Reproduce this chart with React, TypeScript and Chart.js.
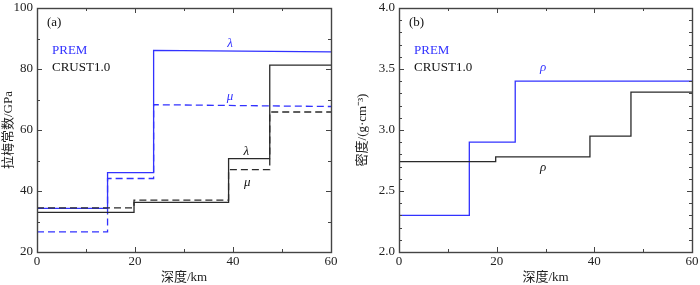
import React, { useEffect, useRef } from "react";
import { Chart, registerables } from "chart.js";

Chart.register(...registerables);

// ---------- data (a): Lamé constants, GPa ----------
const premDepth = [0, 14.4, 23.8, 60];
const premLambdaTop = [34.3, 46.0, 86.1];
const premLambdaBase = [34.3, 46.0, 85.6];
const premMuTop = [26.6, 44.1, 68.3];
const premMuBase = [26.6, 44.1, 67.7];

const crustDepth = [0, 19.8, 39.1, 47.5, 60];
const crustLambda = [33.0, 36.3, 50.6, 81.3];
const crustMu = [34.5, 37.0, 47.0, 65.9];

// ---------- data (b): density, g/cm3 ----------
const premRho = [2.3, 2.9, 3.4];
const crustRho = [2.74, 2.78, 2.95, 3.31];

// axis ranges
const xRange = [0, 60];
const yRangeA = [20, 100];
const yRangeB = [2, 4];

// labels
const panelLabels = ["(a)", "(b)"];
const legendNames = ["PREM", "CRUST1.0"];
const xTitle = "深度/km";
const yTitleA = "拉梅常数/GPa";
const yTitleB = "密度/(g·cm⁻³)";

// greek annotations in data units
const annotA = [
  { text: "λ", x: 39.4, y: 88.2, blue: true },
  { text: "μ", x: 39.4, y: 70.8, blue: true },
  { text: "λ", x: 42.7, y: 52.8, blue: false },
  { text: "μ", x: 42.9, y: 42.6, blue: false },
];
const annotB = [
  { text: "ρ", x: 29.5, y: 3.51, blue: true },
  { text: "ρ", x: 29.5, y: 2.69, blue: false },
];

const BLUE = "#3232ff";
const BLACK = "#2a2a2a";
const FRAME = "#444444";
const SERIF = "'Liberation Serif', 'Noto Sans CJK SC', serif";

function steps(depth: number[], top: number[], base?: number[]) {
  const pts: { x: number; y: number }[] = [];
  for (let i = 0; i < top.length; i++) {
    pts.push({ x: depth[i], y: top[i] });
    pts.push({ x: depth[i + 1], y: (base ? base[i] : top[i]) });
  }
  return pts;
}

function makeDecor(panel: string, annots: { text: string; x: number; y: number; blue: boolean }[], majorTest: (v: number) => boolean, xMajor: (v: number) => boolean) {
  return {
    id: "decor" + panel,
    afterDatasetsDraw(chart: any) {
      const { ctx, chartArea: a, scales } = chart;
      ctx.save();
      ctx.strokeStyle = FRAME;
      ctx.lineWidth = 1;
      // ticks inward on four sides
      for (const t of scales.x.ticks) {
        const px = Math.round(scales.x.getPixelForValue(t.value)) + 0.5;
        const len = xMajor(t.value) ? 5 : 3;
        ctx.beginPath();
        ctx.moveTo(px, a.bottom);
        ctx.lineTo(px, a.bottom - len);
        ctx.moveTo(px, a.top);
        ctx.lineTo(px, a.top + len);
        ctx.stroke();
      }
      for (const t of scales.y.ticks) {
        const py = Math.round(scales.y.getPixelForValue(t.value)) + 0.5;
        const len = majorTest(t.value) ? 5 : 3;
        ctx.beginPath();
        ctx.moveTo(a.left, py);
        ctx.lineTo(a.left + len, py);
        ctx.moveTo(a.right, py);
        ctx.lineTo(a.right - len, py);
        ctx.stroke();
      }
      // frame
      ctx.lineWidth = 1.4;
      ctx.strokeRect(Math.round(a.left) + 0.5, Math.round(a.top) + 0.5, Math.round(a.right - a.left), Math.round(a.bottom - a.top));

      // panel texts
      ctx.font = "13px " + SERIF;
      ctx.textBaseline = "middle";
      ctx.textAlign = "left";
      ctx.fillStyle = "#111";
      ctx.fillText(panel, a.left + 10, a.top + 15);
      ctx.fillStyle = BLUE;
      ctx.fillText(legendNames[0], a.left + 15, a.top + 43);
      ctx.fillStyle = "#111";
      ctx.fillText(legendNames[1], a.left + 15, a.top + 60);

      // greek labels
      ctx.font = "italic 13px " + SERIF;
      ctx.textAlign = "center";
      for (const an of annots) {
        ctx.fillStyle = an.blue ? BLUE : "#111";
        ctx.fillText(an.text, scales.x.getPixelForValue(an.x), scales.y.getPixelForValue(an.y));
      }
      ctx.restore();
    },
  };
}

function baseOptions(yMin: number, yMax: number, yStep: number, yLabel: (v: number) => string, yTitle: string, yWidth: number, yTitlePad: number, padRight: number) {
  return {
    responsive: false,
    animation: false as const,
    layout: { padding: { left: 0, top: 8, right: padRight, bottom: 0 } },
    plugins: { legend: { display: false }, tooltip: { enabled: false } },
    elements: { point: { radius: 0 }, line: { tension: 0 } },
    scales: {
      x: {
        type: "linear" as const,
        min: xRange[0],
        max: xRange[1],
        grid: { display: false, drawTicks: false },
        border: { display: false },
        ticks: {
          stepSize: 10,
          autoSkip: false,
          maxRotation: 0,
          padding: 2,
          color: "#222",
          font: { family: SERIF, size: 13 },
          callback: (v: any) => (Math.round(v) % 20 === 0 ? String(Math.round(v)) : ""),
        },
        title: { display: true, text: xTitle, color: "#222", padding: { top: 0, bottom: 0 }, font: { family: SERIF, size: 13 } },
        afterFit: (s: any) => {
          s.height = 33;
          s.paddingLeft = 0;
          s.paddingRight = 0;
        },
      },
      y: {
        type: "linear" as const,
        min: yMin,
        max: yMax,
        grid: { display: false, drawTicks: false },
        border: { display: false },
        ticks: {
          stepSize: yStep,
          autoSkip: false,
          padding: 4,
          color: "#222",
          font: { family: SERIF, size: 13 },
          callback: (v: any) => yLabel(Number(v)),
        },
        title: { display: true, text: yTitle, color: "#222", padding: { top: yTitlePad, bottom: 0 }, font: { family: SERIF, size: 13 } },
        afterFit: (s: any) => {
          s.width = yWidth;
          s.paddingTop = 0;
          s.paddingBottom = 0;
        },
      },
    },
  };
}

const isMajA = (v: number) => Math.abs(v / 20 - Math.round(v / 20)) < 1e-6;
const isMajB = (v: number) => Math.abs(v * 2 - Math.round(v * 2)) < 1e-6;
const isMajX = (v: number) => Math.abs(v / 20 - Math.round(v / 20)) < 1e-6;

export default function App() {
  const refA = useRef<HTMLCanvasElement>(null);
  const refB = useRef<HTMLCanvasElement>(null);

  useEffect(() => {
    const lw = 1.3;
    const chartA = new Chart(refA.current!, {
      type: "line",
      data: {
        datasets: [
          { data: steps(crustDepth, crustMu), borderColor: BLACK, borderWidth: lw, borderDash: [7, 4], fill: false },
          { data: steps(crustDepth, crustLambda), borderColor: BLACK, borderWidth: lw, fill: false },
          { data: steps(premDepth, premMuTop, premMuBase), borderColor: BLUE, borderWidth: lw, borderDash: [7, 4], fill: false },
          { data: steps(premDepth, premLambdaTop, premLambdaBase), borderColor: BLUE, borderWidth: lw, fill: false },
        ],
      },
      options: baseOptions(
        yRangeA[0], yRangeA[1], 10,
        (v) => (isMajA(v) ? String(Math.round(v)) : ""),
        yTitleA, 37, 1, 19
      ) as any,
      plugins: [makeDecor(panelLabels[0], annotA, isMajA, isMajX)],
    });

    const chartB = new Chart(refB.current!, {
      type: "line",
      data: {
        datasets: [
          { data: steps(crustDepth, crustRho), borderColor: BLACK, borderWidth: lw, fill: false },
          { data: steps(premDepth, premRho), borderColor: BLUE, borderWidth: lw, fill: false },
        ],
      },
      options: baseOptions(
        yRangeB[0], yRangeB[1], 0.1,
        (v) => (isMajB(v) ? v.toFixed(1) : ""),
        yTitleB, 49, 5, 8
      ) as any,
      plugins: [makeDecor(panelLabels[1], annotB, isMajB, isMajX)],
    });

    return () => {
      chartA.destroy();
      chartB.destroy();
    };
  }, []);

  return (
    <div style={{ position: "fixed", left: 0, top: 0, width: 700, height: 285, background: "#fff" }}>
      <canvas ref={refA} width={350} height={285} style={{ position: "absolute", left: 0, top: 0, width: 350, height: 285 }} />
      <canvas ref={refB} width={350} height={285} style={{ position: "absolute", left: 350, top: 0, width: 350, height: 285 }} />
    </div>
  );
}
